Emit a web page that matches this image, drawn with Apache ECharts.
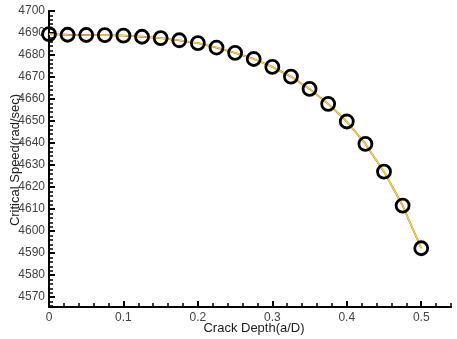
<!DOCTYPE html>
<html>
<head>
<meta charset="utf-8">
<script src="https://cdn.jsdelivr.net/npm/echarts@6/dist/echarts.min.js"></script>
<style>
  html, body { margin: 0; padding: 0; background: #fff; }
  #chart { width: 457px; height: 339px; }
</style>
</head>
<body>
<div id="chart"></div>
<script>
// Crack depth ratio a/D
const crackDepth = [0, 0.025, 0.05, 0.075, 0.1, 0.125, 0.15, 0.175, 0.2, 0.225, 0.25,
  0.275, 0.3, 0.325, 0.35, 0.375, 0.4, 0.425, 0.45, 0.475, 0.5];
// Critical speed (rad/sec)
const criticalSpeed = [4689.5, 4689.2, 4689.1, 4689.0, 4688.8, 4688.3, 4687.7, 4686.7, 4685.4, 4683.4, 4681.0,
  4678.2, 4674.6, 4670.2, 4664.6, 4657.8, 4649.8, 4639.6, 4627.0, 4611.6, 4592.2];

const xMajorTicks = [0, 0.1, 0.2, 0.3, 0.4, 0.5];
const xMinorTicks = [0.02, 0.04, 0.06, 0.08, 0.12, 0.14, 0.16, 0.18, 0.22, 0.24, 0.26, 0.28,
  0.32, 0.34, 0.36, 0.38, 0.42, 0.44, 0.46, 0.48, 0.52, 0.54];
const yMajorTicks = [4570, 4580, 4590, 4600, 4610, 4620, 4630, 4640, 4650, 4660, 4670, 4680, 4690, 4700];
const yMinorTicks = [4566, 4568, 4572, 4574, 4576, 4578, 4582, 4584, 4586, 4588, 4592, 4594, 4596, 4598,
  4602, 4604, 4606, 4608, 4612, 4614, 4616, 4618, 4622, 4624, 4626, 4628, 4632, 4634, 4636, 4638,
  4642, 4644, 4646, 4648, 4652, 4654, 4656, 4658, 4662, 4664, 4666, 4668, 4672, 4674, 4676, 4678,
  4682, 4684, 4686, 4688, 4692, 4694, 4696, 4698];

const xTitle = 'Crack Depth(a/D)';
const yTitle = 'Critical Speed(rad/sec)';

const X_MIN = 0, X_MAX = 0.54, Y_MIN = 4565.5, Y_MAX = 4700;
const FONT = 'Liberation Sans, Arial, sans-serif';

const pts = crackDepth.map((x, i) => [x, criticalSpeed[i]]);

const chart = echarts.init(document.getElementById('chart'), null, { renderer: 'canvas' });

const baseX = {
  type: 'value', min: X_MIN, max: X_MAX, position: 'bottom', offset: 0, splitLine: { show: false },
  axisLine: { show: true, onZero: false, lineStyle: { color: '#000', width: 2 } }
};
const baseY = {
  type: 'value', min: Y_MIN, max: Y_MAX, position: 'left', offset: 0, splitLine: { show: false },
  axisLine: { show: true, onZero: false, lineStyle: { color: '#000', width: 2 } }
};

chart.setOption({
  animation: false,
  backgroundColor: '#fff',
  grid: { left: 49, right: 6, top: 11, bottom: 32, containLabel: false, outerBoundsMode: 'none' },
  // axis titles
  graphic: [
    { type: 'text', x: 254, y: 328, style: { text: xTitle, fill: '#222', font: '13px ' + FONT,
      align: 'center', verticalAlign: 'middle' } },
    { type: 'text', x: 15, y: 160, rotation: Math.PI / 2, style: { text: yTitle, fill: '#222',
      font: '13px ' + FONT, align: 'center', verticalAlign: 'middle' } }
  ],
  xAxis: [
    Object.assign({}, baseX, {
      axisTick: { show: true, inside: true, length: 6, customValues: xMajorTicks,
        lineStyle: { color: '#000', width: 2 } },
      axisLabel: { show: true, customValues: xMajorTicks, margin: 5, color: '#444', fontSize: 12,
        fontFamily: FONT, formatter: v => String(+Number(v).toFixed(2)) }
    }),
    Object.assign({}, baseX, {
      axisTick: { show: true, inside: true, length: 4, customValues: xMinorTicks,
        lineStyle: { color: '#000', width: 1.5 } },
      axisLabel: { show: false }
    })
  ],
  yAxis: [
    Object.assign({}, baseY, {
      axisTick: { show: true, inside: true, length: 6, customValues: yMajorTicks,
        lineStyle: { color: '#000', width: 2 } },
      axisLabel: { show: true, customValues: yMajorTicks, margin: 4, color: '#444', fontSize: 12,
        fontFamily: FONT, formatter: v => String(Math.round(Number(v))) }
    }),
    Object.assign({}, baseY, {
      axisTick: { show: true, inside: true, length: 4, customValues: yMinorTicks,
        lineStyle: { color: '#000', width: 1.5 } },
      axisLabel: { show: false }
    })
  ],
  series: [
    {
      type: 'line', data: pts, xAxisIndex: 0, yAxisIndex: 0, symbol: 'none', silent: true,
      lineStyle: { color: '#b050b0', width: 1.8 }, z: 2
    },
    {
      type: 'line', data: pts, xAxisIndex: 0, yAxisIndex: 0, symbol: 'circle', symbolSize: 13,
      silent: true, z: 3,
      lineStyle: { color: '#f5e800', width: 1.2 },
      itemStyle: { color: 'rgba(0,0,0,0)', borderColor: '#000', borderWidth: 2.8 }
    }
  ]
});
</script>
</body>
</html>
